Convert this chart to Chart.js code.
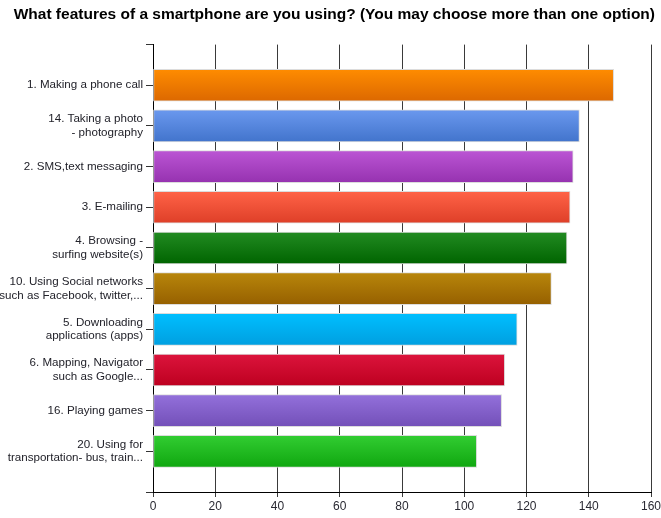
<!DOCTYPE html>
<html>
<head>
<meta charset="utf-8">
<script src="https://cdn.jsdelivr.net/npm/chart.js@4"></script>
<style>
  html, body { margin: 0; padding: 0; background: #fff; }
  #wrap { width: 661px; height: 518px; }
</style>
</head>
<body>
<div id="wrap"><canvas id="chart" width="661" height="518"></canvas></div>
<script>
const title = "What features of a smartphone are you using? (You may choose more than one option)";

const categories = [
  "1. Making a phone call",
  ["14. Taking a photo", "- photography"],
  "2. SMS,text messaging",
  "3. E-mailing",
  ["4. Browsing -", "surfing website(s)"],
  ["10. Using Social networks", "such as Facebook, twitter,..."],
  ["5. Downloading", "applications (apps)"],
  ["6. Mapping, Navigator", "such as Google..."],
  "16. Playing games",
  ["20. Using for", "transportation- bus, train..."]
];
const counts = [148, 137, 135, 134, 133, 128, 117, 113, 112, 104];
const xTicks = [0, 20, 40, 60, 80, 100, 120, 140, 160];

// top / bottom colour of each bar's gradient
const topColors = ["#ff8c00", "#6a98ee", "#bb55d4", "#ff6347", "#228b22", "#b8860b", "#00bfff", "#dc143c", "#9370db", "#32cd32"];
const bottomColors = ["#dc6800", "#4274cc", "#9632b0", "#de3f28", "#006400", "#966000", "#009fe0", "#bd0020", "#7350b8", "#10a710"];

// blank slots above and below so the ticks land where the original puts them
const labels = [""].concat(categories, [""]);
const values = [null].concat(counts, [null]);

function barFill(ctx) {
  const i = ctx.dataIndex - 1;
  if (i < 0 || i >= counts.length) return "#fff";
  const chart = ctx.chart;
  const y = chart.scales.y;
  if (!y) return topColors[i];
  const c = y.getPixelForValue(ctx.dataIndex);
  const g = chart.ctx.createLinearGradient(0, c - 16, 0, c + 16);
  g.addColorStop(0, topColors[i]);
  g.addColorStop(1, bottomColors[i]);
  return g;
}

new Chart(document.getElementById("chart").getContext("2d"), {
  type: "bar",
  data: {
    labels,
    datasets: [{
      data: values,
      backgroundColor: barFill,
      borderColor: "#dcdcdc",
      borderWidth: 1,
      borderSkipped: false,
      barThickness: 32
    }]
  },
  options: {
    indexAxis: "y",
    responsive: false,
    animation: false,
    events: [],
    layout: { padding: { left: 0, right: 6, top: 0, bottom: 0 } },
    plugins: {
      legend: { display: false },
      tooltip: { enabled: false },
      title: {
        display: true,
        text: title,
        align: "end",
        color: "#000",
        font: { family: "'Liberation Sans', Arial, sans-serif", size: 15.5, weight: "bold" },
        padding: { top: 5, bottom: 21 }
      }
    },
    scales: {
      x: {
        min: 0,
        max: 160,
        afterBuildTicks: (s) => { s.ticks = xTicks.map((v) => ({ value: v })); },
        afterFit: (s) => { s.height = 26; s.paddingRight = 10; s.paddingLeft = 0; },
        border: { color: "#000", width: 1 },
        grid: { color: "#3a3a3a", lineWidth: 1, tickLength: 5, drawTicks: true },
        ticks: {
          color: "#2a2a33",
          padding: 2,
          font: { family: "'Liberation Sans', Arial, sans-serif", size: 12 }
        }
      },
      y: {
        offset: false,
        afterFit: (s) => { s.width = 153; },
        border: { color: "#000", width: 1 },
        grid: { offset: false, drawOnChartArea: false, color: "#333", tickLength: 7 },
        ticks: {
          color: "#22222a",
          padding: 3,
          autoSkip: false,
          font: { family: "'Liberation Sans', Arial, sans-serif", size: 11.6, lineHeight: 1.2 }
        }
      }
    }
  }
});
</script>
</body>
</html>
